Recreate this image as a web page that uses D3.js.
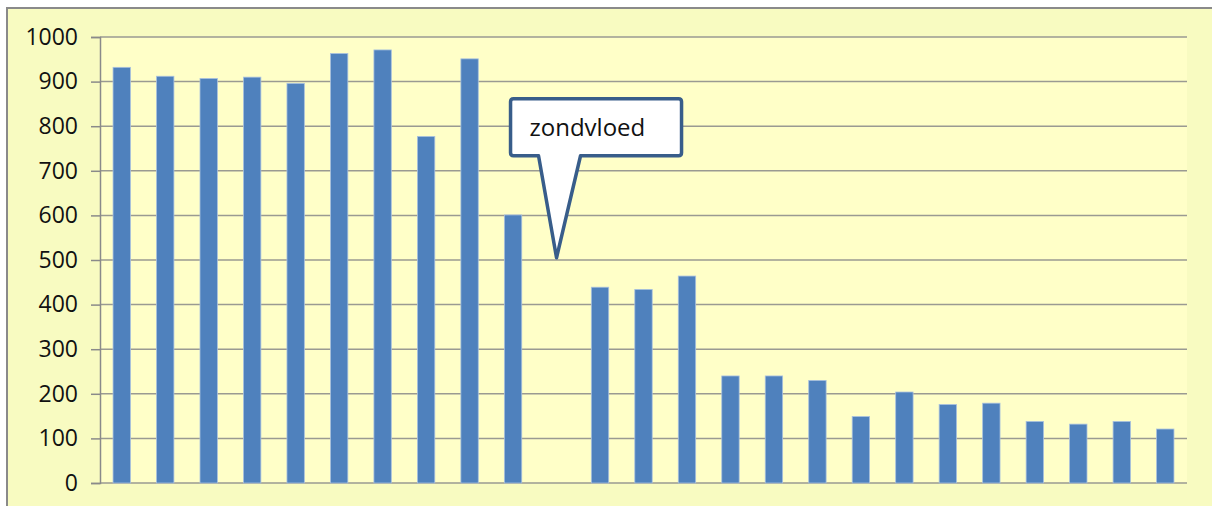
<!DOCTYPE html>
<html>
<head>
<meta charset="utf-8">
<script src="https://cdn.jsdelivr.net/npm/d3@7"></script>
<style>
  html, body { margin: 0; padding: 0; background: #ffffff; }
  svg { display: block; }
</style>
</head>
<body>
<svg id="chart" width="1212" height="506"></svg>
<script>
// Data (category 11 has no value)
const categories = d3.range(1, 26).map(String);
const values = [932, 912, 907, 910, 896, 963, 971, 777, 951, 601,
                null, 439, 434, 464, 240, 240, 230, 149, 204, 176,
                179, 138, 132, 138, 121];
const yTicks = [0, 100, 200, 300, 400, 500, 600, 700, 800, 900, 1000];
const calloutText = "zondvloed";
const calloutCategory = "11";
const calloutValue = 505;

const svg = d3.select("#chart");

// Set the dimensions and margins of the plot area
const margin = { top: 37, right: 25, bottom: 23, left: 100 },
    width = 1212 - margin.left - margin.right,
    height = 506 - margin.top - margin.bottom;

// Outer chart area (border only visible top and left)
svg.append("rect")
    .attr("x", 7).attr("y", 8)
    .attr("width", 1230).attr("height", 530)
    .attr("fill", "#f8fbc1")
    .attr("stroke", "#8a8a8a")
    .attr("stroke-width", 2);

const chart = svg.append("g")
    .attr("transform", `translate(${margin.left},${margin.top})`);

// Plot area background
chart.append("rect")
    .attr("width", width)
    .attr("height", height)
    .attr("fill", "#ffffc8");

const x = d3.scaleBand()
    .domain(categories)
    .range([0, width])
    .paddingInner(0.6)
    .paddingOuter(0.3);

const y = d3.scaleLinear()
    .domain([0, 1000])
    .range([height, 0]);

// Gridlines
chart.append("g")
    .selectAll("line")
    .data(yTicks)
    .enter()
    .append("line")
    .attr("x1", 0)
    .attr("x2", width)
    .attr("y1", d => y(d))
    .attr("y2", d => y(d))
    .attr("stroke", "#9a9a92")
    .attr("stroke-width", 1.5);

// Y axis
const yAxis = d3.axisLeft(y)
    .tickValues(yTicks)
    .tickSize(9)
    .tickPadding(13)
    .tickFormat(d3.format("d"));

const gy = chart.append("g").call(yAxis);
gy.select(".domain").attr("stroke", "#8a8a8a").attr("stroke-width", 1.5);
gy.selectAll(".tick line").attr("stroke", "#8a8a8a").attr("stroke-width", 1.5);
gy.selectAll("text")
    .attr("font-size", 23)
    .style("font-size", "23px")
    .style("font-family", "'Open Sans', sans-serif")
    .attr("fill", "#111");

// Bars
chart.append("g")
    .selectAll("rect")
    .data(categories.map((c, i) => ({ cat: c, value: values[i] })).filter(d => d.value != null))
    .enter()
    .append("rect")
    .attr("x", d => x(d.cat))
    .attr("y", d => y(d.value))
    .attr("width", x.bandwidth())
    .attr("height", d => height - y(d.value))
    .attr("fill", "#4f81bd")
    .attr("stroke", "#a9c1df")
    .attr("stroke-width", 0.8);

// Callout pointing at the missing bar
const tipX = margin.left + x(calloutCategory) + x.bandwidth() / 2;
const tipY = margin.top + y(calloutValue);
const bx0 = tipX - 46, bx1 = tipX + 125, by0 = tipY - 159, by1 = tipY - 102;
const r = 3;
const p0 = tipX - 18, p1 = tipX + 24;
const path = [
    `M${bx0 + r},${by0}`,
    `L${bx1 - r},${by0}`, `Q${bx1},${by0} ${bx1},${by0 + r}`,
    `L${bx1},${by1 - r}`, `Q${bx1},${by1} ${bx1 - r},${by1}`,
    `L${p1},${by1}`, `L${tipX},${tipY}`, `L${p0},${by1}`,
    `L${bx0 + r},${by1}`, `Q${bx0},${by1} ${bx0},${by1 - r}`,
    `L${bx0},${by0 + r}`, `Q${bx0},${by0} ${bx0 + r},${by0}`, "Z"
].join(" ");

svg.append("path")
    .attr("d", path)
    .attr("fill", "#ffffff")
    .attr("stroke", "#385d8a")
    .attr("stroke-width", 3.5)
    .attr("stroke-linejoin", "round");

svg.append("text")
    .attr("x", bx0 + 19)
    .attr("y", by0 + 37)
    .text(calloutText)
    .style("font-size", "24px")
    .style("font-family", "'Open Sans', sans-serif")
    .attr("fill", "#111");
</script>
</body>
</html>
